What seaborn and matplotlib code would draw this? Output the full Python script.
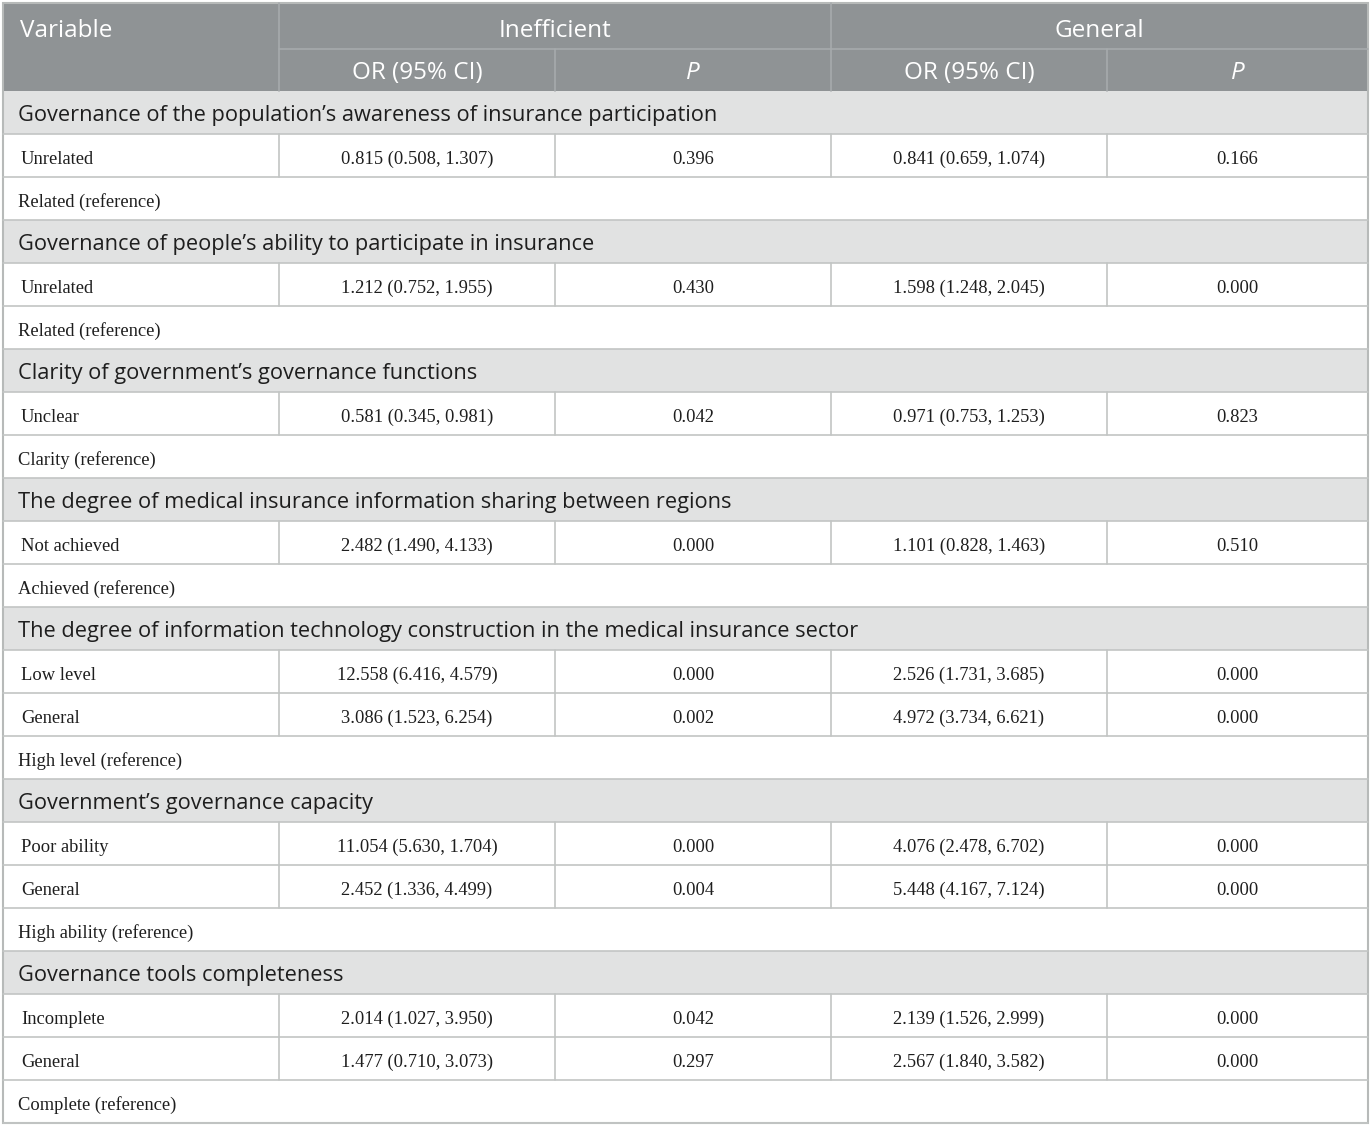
import matplotlib
matplotlib.use("Agg")
import matplotlib.pyplot as plt
import seaborn as sns
from matplotlib.patches import Rectangle


# table content
sections = [
    "Governance of the population\u2019s awareness of insurance participation",
    "Governance of people\u2019s ability to participate in insurance",
    "Clarity of government\u2019s governance functions",
    "The degree of medical insurance information sharing between regions",
    "The degree of information technology construction in the medical insurance sector",
    "Government\u2019s governance capacity",
    "Governance tools completeness",
]
levels = [
    ["Unrelated"],
    ["Unrelated"],
    ["Unclear"],
    ["Not achieved"],
    ["Low level", "General"],
    ["Poor ability", "General"],
    ["Incomplete", "General"],
]
references = [
    "Related (reference)",
    "Related (reference)",
    "Clarity (reference)",
    "Achieved (reference)",
    "High level (reference)",
    "High ability (reference)",
    "Complete (reference)",
]
ineff_or = [
    ["0.815 (0.508, 1.307)"],
    ["1.212 (0.752, 1.955)"],
    ["0.581 (0.345, 0.981)"],
    ["2.482 (1.490, 4.133)"],
    ["12.558 (6.416, 4.579)", "3.086 (1.523, 6.254)"],
    ["11.054 (5.630, 1.704)", "2.452 (1.336, 4.499)"],
    ["2.014 (1.027, 3.950)", "1.477 (0.710, 3.073)"],
]
ineff_p = [["0.396"], ["0.430"], ["0.042"], ["0.000"],
           ["0.000", "0.002"], ["0.000", "0.004"], ["0.042", "0.297"]]
gen_or = [
    ["0.841 (0.659, 1.074)"],
    ["1.598 (1.248, 2.045)"],
    ["0.971 (0.753, 1.253)"],
    ["1.101 (0.828, 1.463)"],
    ["2.526 (1.731, 3.685)", "4.972 (3.734, 6.621)"],
    ["4.076 (2.478, 6.702)", "5.448 (4.167, 7.124)"],
    ["2.139 (1.526, 2.999)", "2.567 (1.840, 3.582)"],
]
gen_p = [["0.166"], ["0.000"], ["0.823"], ["0.510"],
         ["0.000", "0.000"], ["0.000", "0.000"], ["0.000", "0.000"]]

group_names = ["Inefficient", "General"]
sub_names = ["OR (95% CI)", "P"]


# flatten into table rows
rows = []
for i, title in enumerate(sections):
    rows.append(("section", [title]))
    for j, lab in enumerate(levels[i]):
        rows.append(("level", [lab, ineff_or[i][j], ineff_p[i][j], gen_or[i][j], gen_p[i][j]]))
    rows.append(("ref", [references[i]]))


sns.set_theme(style="white")
SANS = ["Open Sans", "DejaVu Sans"]
SERIF = ["Liberation Serif", "DejaVu Serif"]

W, H = 1372, 1127
edges = [3, 279, 555, 831, 1107, 1368]
top, mid, head_bot = 3, 49, 91
row_h = 43

header_col = "#8f9395"
header_line = "#a7abad"
section_col = "#e1e2e2"
grid_col = "#c2c5c4"
txt_col = "#1e1e1e"

fs_head, fs_sec, fs_cell = 17.5, 15.7, 13.3

fig = plt.figure(figsize=(W / 100, H / 100), dpi=100)
ax = fig.add_axes([0, 0, 1, 1])
ax.set_xlim(0, W)
ax.set_ylim(H, 0)
ax.axis("off")

# header block
ax.add_patch(Rectangle((edges[0], top), edges[-1] - edges[0], head_bot - top,
                       facecolor=header_col, edgecolor="none"))
ax.plot([edges[1], edges[-1]], [mid, mid], color=header_line, lw=1.2)
for x in [edges[1], edges[3]]:
    ax.plot([x, x], [top, head_bot], color=header_line, lw=1.2)
for x in [edges[2], edges[4]]:
    ax.plot([x, x], [mid, head_bot], color=header_line, lw=1.2)

ax.text(20, (top + mid) / 2 + 5, "Variable", color="white", fontsize=fs_head,
        family=SANS, va="center", ha="left")
for g, name in enumerate(group_names):
    cx = (edges[1 + 2 * g] + edges[3 + 2 * g]) / 2
    ax.text(cx, (top + mid) / 2 + 5, name, color="white", fontsize=fs_head,
            family=SANS, va="center", ha="center")
    for s, sub in enumerate(sub_names):
        c0, c1 = edges[1 + 2 * g + s], edges[2 + 2 * g + s]
        ax.text((c0 + c1) / 2, (mid + head_bot) / 2 + 3, sub, color="white",
                fontsize=fs_head, family=SANS, va="center", ha="center",
                style="italic" if sub == "P" else "normal")

# body rows
for r, (kind, cells) in enumerate(rows):
    y0 = head_bot + r * row_h
    y1 = y0 + row_h
    yc = (y0 + y1) / 2 + 4
    if kind == "section":
        ax.add_patch(Rectangle((edges[0], y0), edges[-1] - edges[0], row_h,
                               facecolor=section_col, edgecolor="none"))
        ax.text(18, yc - 1, cells[0], color=txt_col, fontsize=fs_sec, family=SANS,
                va="center", ha="left")
    elif kind == "level":
        for x in edges[1:-1]:
            ax.plot([x, x], [y0, y1], color=grid_col, lw=1.2)
        ax.text(21, yc, cells[0], color=txt_col, fontsize=fs_cell, family=SERIF,
                va="center", ha="left")
        for c in range(1, 5):
            ax.text((edges[c] + edges[c + 1]) / 2, yc, cells[c], color=txt_col,
                    fontsize=fs_cell, family=SERIF, va="center", ha="center")
    else:
        ax.text(18, yc, cells[0], color=txt_col, fontsize=fs_cell, family=SERIF,
                va="center", ha="left")
    ax.plot([edges[0], edges[-1]], [y1, y1], color=grid_col, lw=1.2)

# outer border
bottom = head_bot + len(rows) * row_h
ax.add_patch(Rectangle((edges[0], top), edges[-1] - edges[0], bottom - top,
                       facecolor="none", edgecolor="#b7bab9", lw=1.5))

fig.savefig("out.png", dpi=100, facecolor="white")
